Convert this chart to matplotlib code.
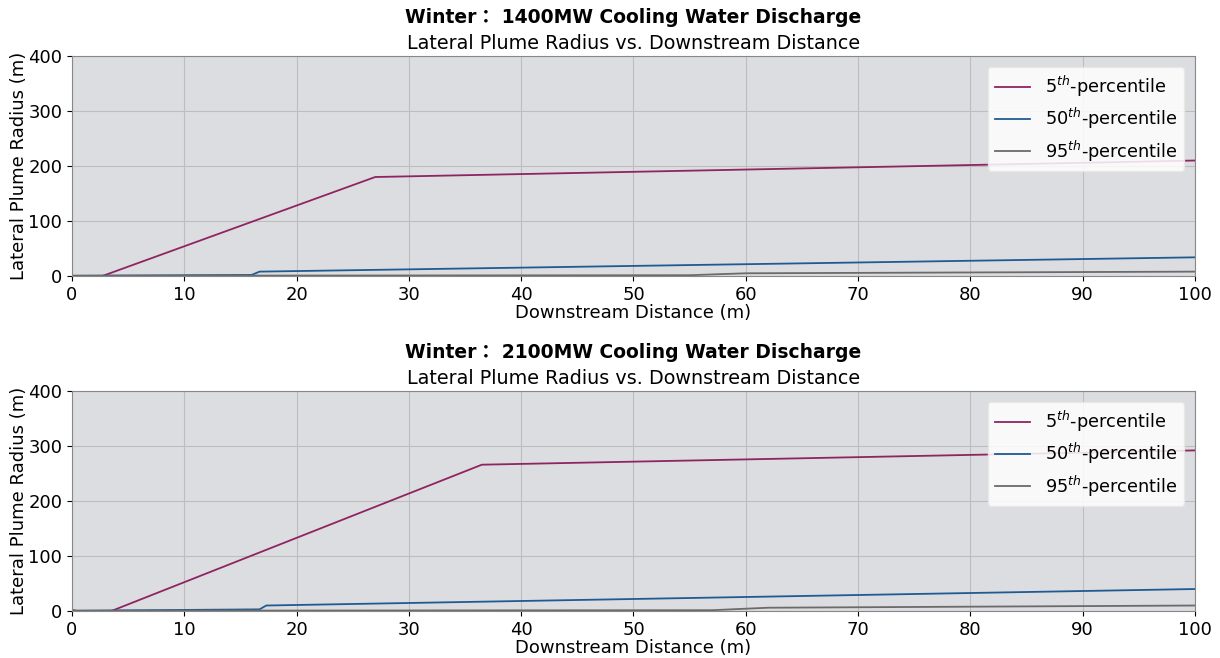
import numpy as np
import matplotlib
matplotlib.use('Agg')
import matplotlib.pyplot as plt

# downstream distance (m) breakpoints and lateral plume radius (m)
x_p5_1400 = [0, 2.7, 27, 100]
y_p5_1400 = [0, 0, 180, 210]
x_p50_1400 = [0, 16.0, 16.7, 100]
y_p50_1400 = [0.5, 2, 8, 34]
x_p95_1400 = [0, 55, 60, 100]
y_p95_1400 = [0.5, 1.5, 5, 8]

x_p5_2100 = [0, 0.5, 3.5, 36.5, 100]
y_p5_2100 = [2, 0, 0, 266, 292]
x_p50_2100 = [0, 16.7, 17.3, 100]
y_p50_2100 = [0.5, 3, 10, 40]
x_p95_2100 = [0, 57, 62, 100]
y_p95_2100 = [0.5, 1.5, 6, 10]

col5 = '#8e2461'
col50 = '#1f5b93'
col95 = '#6b6b6b'

fig = plt.figure(figsize=(12.2, 6.58), dpi=100)
ax1 = fig.add_axes([0.059, 0.5805, 0.9205, 0.3344])
ax2 = fig.add_axes([0.059, 0.0714, 0.9205, 0.3344])

panels = [
    (ax1, '1400MW', x_p5_1400, y_p5_1400, x_p50_1400, y_p50_1400, x_p95_1400, y_p95_1400),
    (ax2, '2100MW', x_p5_2100, y_p5_2100, x_p50_2100, y_p50_2100, x_p95_2100, y_p95_2100),
]

for ax, mw, x5, y5, x50, y50, x95, y95 in panels:
    ax.set_facecolor('#dcdde0')
    ax.plot(x5, y5, color=col5, lw=1.3, label='5$^{th}$-percentile')
    ax.plot(x50, y50, color=col50, lw=1.3, label='50$^{th}$-percentile')
    ax.plot(x95, y95, color=col95, lw=1.3, label='95$^{th}$-percentile')
    ax.set_xlim(0, 100)
    ax.set_ylim(0, 400)
    ax.set_xticks(np.arange(0, 101, 10))
    ax.set_yticks(np.arange(0, 401, 100))
    ax.grid(True, color='#bdbdbd', lw=0.8)
    ax.set_axisbelow(True)
    ax.tick_params(labelsize=13)
    for s in ax.spines.values():
        s.set_color('#888888')
    ax.set_xlabel('Downstream Distance (m)', fontsize=13, labelpad=0)
    ax.set_ylabel('Lateral Plume Radius (m)', fontsize=13, labelpad=0)
    ax.legend(loc='upper right', fontsize=12.8, framealpha=0.85, borderaxespad=0.6,
              labelspacing=0.4, edgecolor='#e8e8e8')
    ax.text(0.5, 1.13, 'Winter\uff1a %s Cooling Water Discharge' % mw, transform=ax.transAxes,
            ha='center', va='bottom', fontsize=13.5, fontweight='bold',
            family=['DejaVu Sans', 'Noto Sans CJK TC'])
    ax.text(0.5, 1.015, 'Lateral Plume Radius vs. Downstream Distance', transform=ax.transAxes,
            ha='center', va='bottom', fontsize=13.8)

fig.savefig('out.png', dpi=100, facecolor='white')
